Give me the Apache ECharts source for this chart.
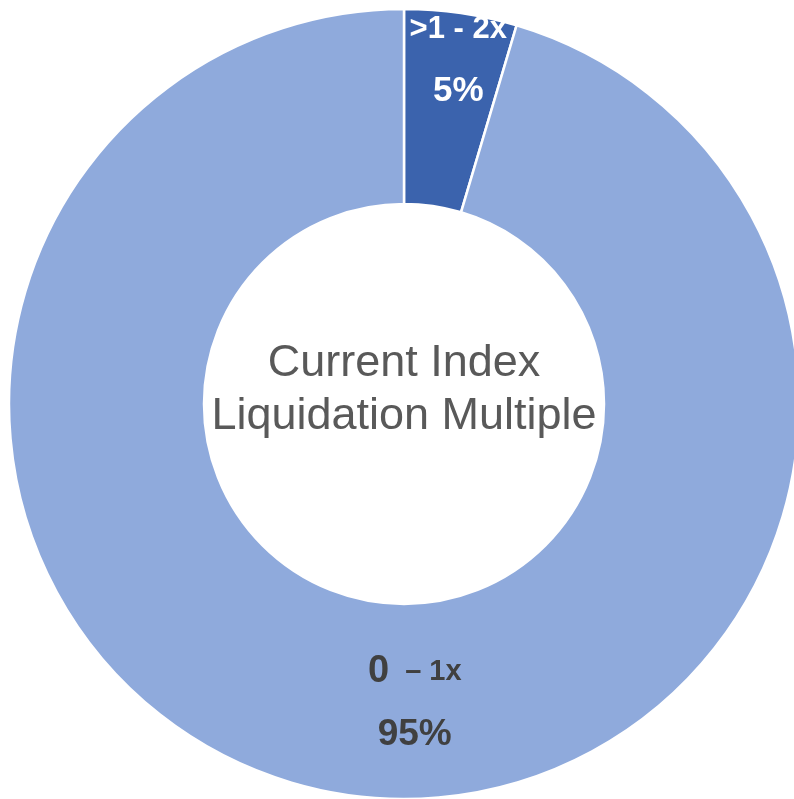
<!DOCTYPE html>
<html>
<head>
<meta charset="utf-8">
<script src="https://cdn.jsdelivr.net/npm/echarts@6/dist/echarts.min.js"></script>
<style>
  html, body { margin: 0; padding: 0; background: #fff; }
  #chart { width: 794px; height: 799px; }
</style>
</head>
<body>
<div id="chart"></div>
<script>
// slice data, clockwise from 12 o'clock
const categories = ['>1 - 2x', '0 – 1x']
const shares = [4.6, 95.4]
const centerTitle = ['Current Index', 'Liquidation Multiple']

const colors = ['#3B63AD', '#8FAADC']
const labelOffsets = [[11, -46], [54, 2]]

const pct = (p) => Math.round(p) + '%'

const chart = echarts.init(document.getElementById('chart'))

const option = {
  animation: false,
  graphic: [
    {
      type: 'text',
      x: 404,
      y: 390,
      style: {
        text: centerTitle.join('\n'),
        fontFamily: 'Liberation Sans, Arial, sans-serif',
        fontSize: 45,
        lineHeight: 53,
        fill: '#595959',
        align: 'center',
        verticalAlign: 'middle'
      }
    }
  ],
  series: [
    {
      type: 'pie',
      center: [404, 404],
      radius: [200, 395],
      startAngle: 90,
      clockwise: true,
      avoidLabelOverlap: false,
      itemStyle: { borderColor: '#fff', borderWidth: 2.5 },
      labelLine: { show: false },
      data: categories.map((name, i) => ({
        name,
        value: shares[i],
        itemStyle: { color: colors[i] },
        label: {
          show: true,
          position: 'inside',
          offset: labelOffsets[i],
          formatter: i === 0
            ? (p) => '{wn|' + p.name + '}\n{wp|' + pct(p.percent) + '}'
            : (p) => '{big|0}{small|  – 1x}\n{dp|' + pct(p.percent) + '}',
          rich: {
            wn: { color: '#fff', fontWeight: 'bold', fontSize: 31, lineHeight: 62, fontFamily: 'Liberation Sans, Arial' },
            wp: { color: '#fff', fontWeight: 'bold', fontSize: 35, lineHeight: 62, fontFamily: 'Liberation Sans, Arial' },
            big: { color: '#404040', fontWeight: 'bold', fontSize: 38, lineHeight: 63, fontFamily: 'Liberation Sans, Arial' },
            small: { color: '#404040', fontWeight: 'bold', fontSize: 29, lineHeight: 63, fontFamily: 'Liberation Sans, Arial' },
            dp: { color: '#404040', fontWeight: 'bold', fontSize: 37, lineHeight: 63, fontFamily: 'Liberation Sans, Arial' }
          }
        }
      }))
    }
  ]
}

chart.setOption(option)
</script>
</body>
</html>
